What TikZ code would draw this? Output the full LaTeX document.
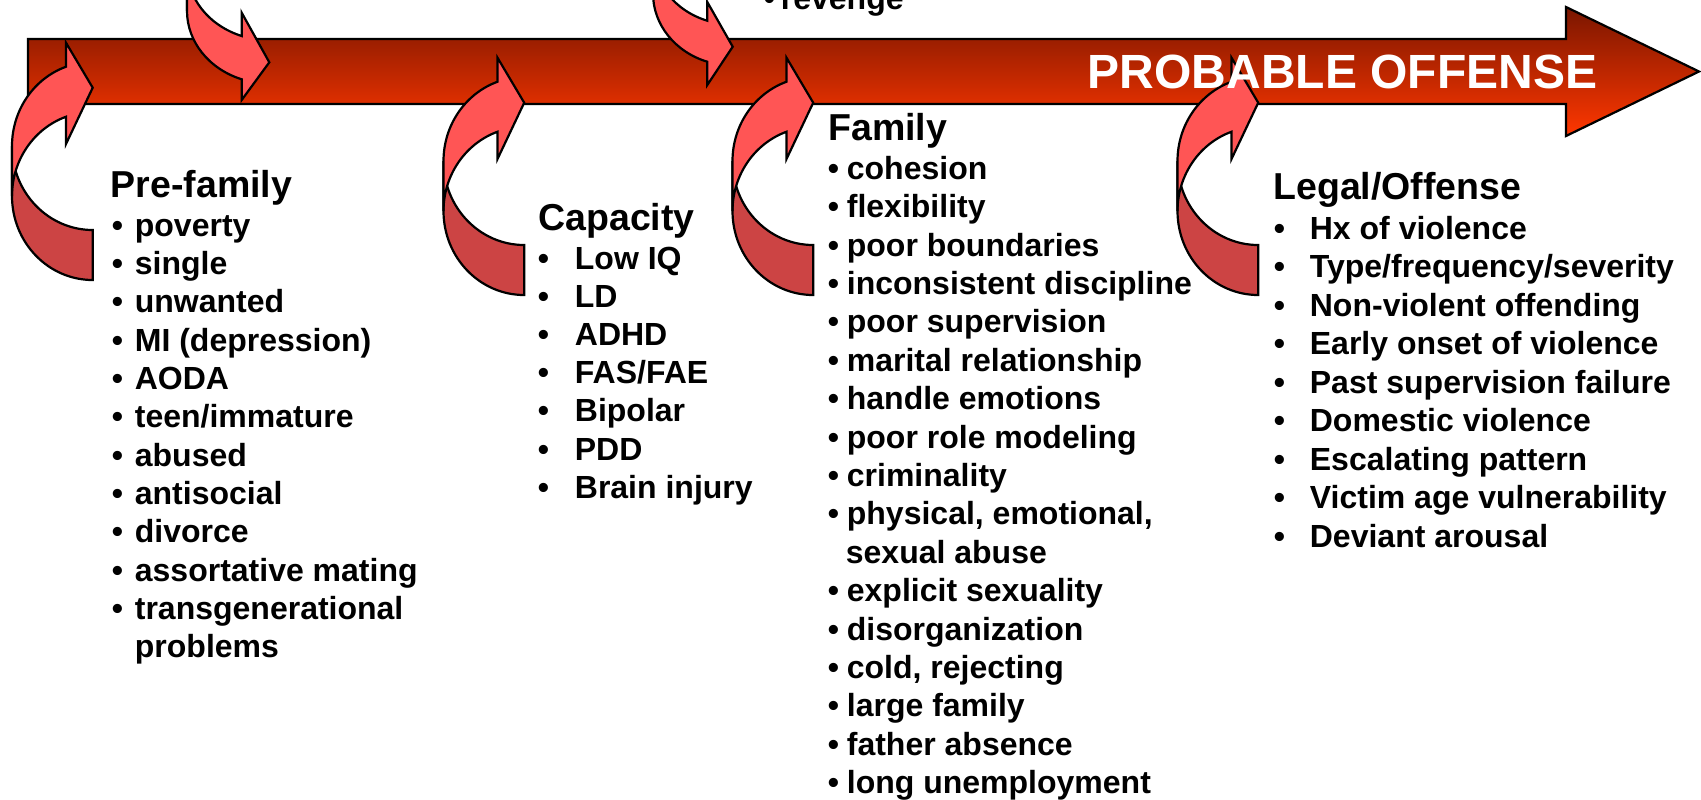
\documentclass[tikz,border=0pt]{standalone}
\usepackage{fontspec}
\setmainfont{Liberation Sans}
\definecolor{curlfront}{RGB}{255,85,85}
\definecolor{curlback}{RGB}{204,68,68}
\definecolor{bartop}{RGB}{122,22,0}
\definecolor{barbottom}{RGB}{255,55,0}
\tikzset{
  frontband/.style={fill=curlfront, draw=black, line width=1.1pt},
  backband/.style={fill=curlback, draw=black, line width=1.1pt},
  listhead/.style={anchor=base west, inner sep=0pt, font=\fontsize{18.75pt}{22pt}\selectfont\bfseries},
  listentry/.style={anchor=base west, inner sep=0pt, font=\fontsize{16pt}{19.2pt}\selectfont\bfseries},
  bartitle/.style={anchor=base, inner sep=0pt, text=white, font=\fontsize{24pt}{28pt}\selectfont\bfseries}
}
\def\bulw{10pt}
\newcommand{\bul}{\makebox[\bulw][l]{•}}
% curled ribbon arrow: r, c1, c2, w, hR, ah, barb (c1 side), tip, barb (c2 side)
\newcommand{\curlarrow}[9]{%
  \pgfmathsetmacro\cs{sign(#3-#2)}%
  \pgfmathsetmacro\ca{acos(#6/#4)}%
  \pgfmathsetmacro\ch{180-(\cs)*\ca}%
  \pgfmathsetmacro\cb{180+(\cs)*90}%
  \pgfmathsetmacro\cl{#1-#4}%
  \pgfmathsetmacro\cx{#1-#6}%
  \pgfmathsetmacro\cyi{#2+(\cs)*#5*sin(\ca)}%
  \pgfmathsetmacro\cyo{#3+(\cs)*#5*sin(\ca)}%
  \pgfmathsetmacro\cto{#3-(\cs)*#5}%
  \draw[backband] (\cl,#2) arc[start angle=180, end angle=\cb, x radius=#4, y radius=#5]
    -- (#1,\cto) arc[start angle=\cb, end angle=180, x radius=#4, y radius=#5] -- cycle;
  \draw[frontband] (\cl,#2) arc[start angle=180, end angle=\ch, x radius=#4, y radius=#5]
    -- (\cx,#7) -- (#1,#8) -- (\cx,#9) -- (\cx,\cyo)
    arc[start angle=\ch, end angle=180, x radius=#4, y radius=#5] -- cycle;
}
\begin{document}
\begin{tikzpicture}[x=0.5pt, y=-0.5pt]
  \useasboundingbox (0,0) rectangle (1701,799);
  \clip (0,0) rectangle (1701,799);
  \draw[line width=1.1pt, top color=bartop, bottom color=barbottom]
    (28,39) -- (1566,39) -- (1566,7) -- (1699,71.5) -- (1566,136) -- (1566,104) -- (28,104) -- cycle;

  \curlarrow{92.7}{196}{146}{80.7}{84}{26.7}{144}{87.7}{42.7}
  \curlarrow{269.3}{-32.4}{10.9}{82.3}{72.6}{27.6}{12.7}{62.3}{100}
  \curlarrow{732.7}{-47.5}{-6.5}{79.7}{72}{25.4}{2}{46.7}{85}
  \begin{scope}[shift={(431.5,15)}]
    \curlarrow{92.7}{196}{146}{80.7}{84}{26.7}{144}{87.7}{42.7}
  \end{scope}
  \begin{scope}[shift={(720.5,15)}]
    \curlarrow{92.7}{196}{146}{80.7}{84}{26.7}{144}{87.7}{42.7}
  \end{scope}
  \begin{scope}[shift={(1165.5,15)}]
    \curlarrow{92.7}{196}{146}{80.7}{84}{26.7}{144}{87.7}{42.7}
  \end{scope}

  \node[bartitle] (offense) at (1342.5,88.3) {PROBABLE OFFENSE};

  \def\bulw{8.5pt}
  \node[listentry] (revenge) at (763.5,9) {\bul revenge};

  \node[listhead] (prefamily) at (110.5,197) {Pre-family};
  \def\bulw{11.5pt}
  \foreach \txt [count=\i from 0] in {poverty, single, unwanted, MI (depression), AODA,
      teen/immature, abused, antisocial, divorce, assortative mating, transgenerational}
    \node[listentry] (pre\i) at (111.5,{236+38.36*\i}) {\bul\txt};
  \node[listentry] (pre11) at (111.5,{236+38.36*11}) {\hspace*{\bulw}problems};

  \node[listhead] (capacity) at (538,230) {Capacity};
  \def\bulw{18.5pt}
  \foreach \txt [count=\i from 0] in {Low IQ, LD, ADHD, FAS/FAE, Bipolar, PDD, Brain injury}
    \node[listentry] (cap\i) at (537.5,{269+38.2*\i}) {\bul\txt};

  \node[listhead] (family) at (828,140) {Family};
  \def\bulw{9.5pt}
  \foreach \txt [count=\i from 0] in {cohesion, flexibility, poor boundaries, inconsistent discipline,
      poor supervision, marital relationship, handle emotions, poor role modeling, criminality,
      {physical, emotional,}}
    \node[listentry] (fam\i) at (827.5,{179.3+38.4*\i}) {\bul\txt};
  \node[listentry] (fam10) at (827.5,{179.3+38.4*10}) {\hspace*{9pt}sexual abuse};
  \foreach \txt [count=\i from 11] in {explicit sexuality, disorganization, {cold, rejecting},
      large family, father absence, long unemployment}
    \node[listentry] (fam\i) at (827.5,{179.3+38.4*\i}) {\bul\txt};

  \node[listhead] (legal) at (1273,199) {Legal/Offense};
  \def\bulw{18pt}
  \foreach \txt [count=\i from 0] in {Hx of violence, Type/frequency/severity, Non-violent offending,
      Early onset of violence, Past supervision failure, Domestic violence, Escalating pattern,
      Victim age vulnerability, Deviant arousal}
    \node[listentry] (leg\i) at (1273.5,{239+38.5*\i}) {\bul\txt};
\end{tikzpicture}
\end{document}
